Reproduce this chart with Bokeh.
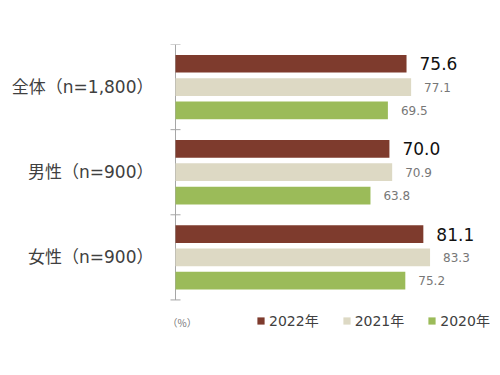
from bokeh.plotting import figure
from bokeh.models import (Range1d, FixedTicker, ColumnDataSource, Legend, LegendItem, Label)
from bokeh.transform import dodge
from bokeh.core.properties import value
from bokeh.embed import file_html
from bokeh.resources import INLINE

categories = ["全体（n=1,800）", "男性（n=900）", "女性（n=900）"]
series_names = ["2022年", "2021年", "2020年"]
v2022 = [75.6, 70.0, 81.1]
v2021 = [77.1, 70.9, 83.3]
v2020 = [69.5, 63.8, 75.2]
unit_note = "（%）"

colors = ["#7E3B2D", "#DDD9C4", "#9BBB59"]
n = len(categories)
ypos = [n - 0.5 - i for i in range(n)]
separators = list(range(n + 1))

src = ColumnDataSource(dict(
    y=ypos, v2022=v2022, v2021=v2021, v2020=v2020,
    t2022=[f"{v:.1f}" for v in v2022],
    t2021=[f"{v:.1f}" for v in v2021],
    t2020=[f"{v:.1f}" for v in v2020],
))

scale = 3.056
pad_left = 11
FW = 334
unit_px = 85
ybot = -0.5
p = figure(output_backend="svg", toolbar_location=None,
           frame_width=FW, frame_height=int(round(unit_px * (n - ybot))),
           min_border_left=175 - pad_left, min_border_top=44, min_border_right=2, min_border_bottom=10,
           x_range=Range1d(-pad_left / scale, (FW - pad_left) / scale), y_range=Range1d(ybot, n))
p.outline_line_color = None
p.grid.visible = False
p.xaxis.visible = False

yax = p.yaxis[0]
yax.ticker = FixedTicker(ticks=ypos)
yax.major_label_overrides = {y: c for y, c in zip(ypos, categories)}
yax.major_tick_line_color = None
yax.minor_tick_line_color = None
yax.axis_line_color = None
yax.major_label_standoff = 5
yax.major_label_text_font = "DejaVu Sans, Noto Sans CJK JP"
yax.major_label_text_font_size = "17px"
yax.major_label_text_color = "#404040"

# category axis line and separator ticks at x = 0
p.segment(x0=[0], y0=[separators[0]], x1=[0], y1=[separators[-1]],
          line_color="#A6A6A6", line_width=1)
p.scatter(x=[0] * len(separators), y=separators, marker="dash", size=10,
          line_color="#A6A6A6", line_width=1)

offs = [0.274, 0.0, -0.274]
h = 0.208
renderers = []
for key, off, col in zip(["v2022", "v2021", "v2020"], offs, colors):
    r = p.hbar(y=dodge("y", off, range=p.y_range), left=0, right=key, height=h,
               fill_color=col, line_color=None, source=src)
    renderers.append(r)

numfont = value("DejaVu Sans")
p.text(x="v2022", y=dodge("y", offs[0], range=p.y_range), text="t2022", source=src,
       x_offset=13, text_baseline="middle", text_font=numfont,
       text_font_size="17px", text_color="#111111")
p.text(x="v2021", y=dodge("y", offs[1], range=p.y_range), text="t2021", source=src,
       x_offset=13, text_baseline="middle", text_font=numfont,
       text_font_size="12px", text_color="#777777")
p.text(x="v2020", y=dodge("y", offs[2], range=p.y_range), text="t2020", source=src,
       x_offset=13, text_baseline="middle", text_font=numfont,
       text_font_size="12px", text_color="#777777")

legend = Legend(items=[LegendItem(label=s, renderers=[r]) for s, r in zip(series_names, renderers)],
                orientation="horizontal", location=(92, 12),
                glyph_width=9, glyph_height=9, label_standoff=4, spacing=23,
                padding=0, margin=0, border_line_color=None, background_fill_alpha=0,
                label_text_font="DejaVu Sans, Noto Sans CJK JP", label_text_font_size="14px",
                label_text_color="#404040")
p.add_layout(legend, "center")

p.add_layout(Label(x=3, y=20, x_units="screen", y_units="screen", text=unit_note,
                   text_font_size="10px", text_color="#777777", text_baseline="middle",
                   text_font="Noto Sans CJK JP"))

open("out.html", "w").write(file_html(p, INLINE))
